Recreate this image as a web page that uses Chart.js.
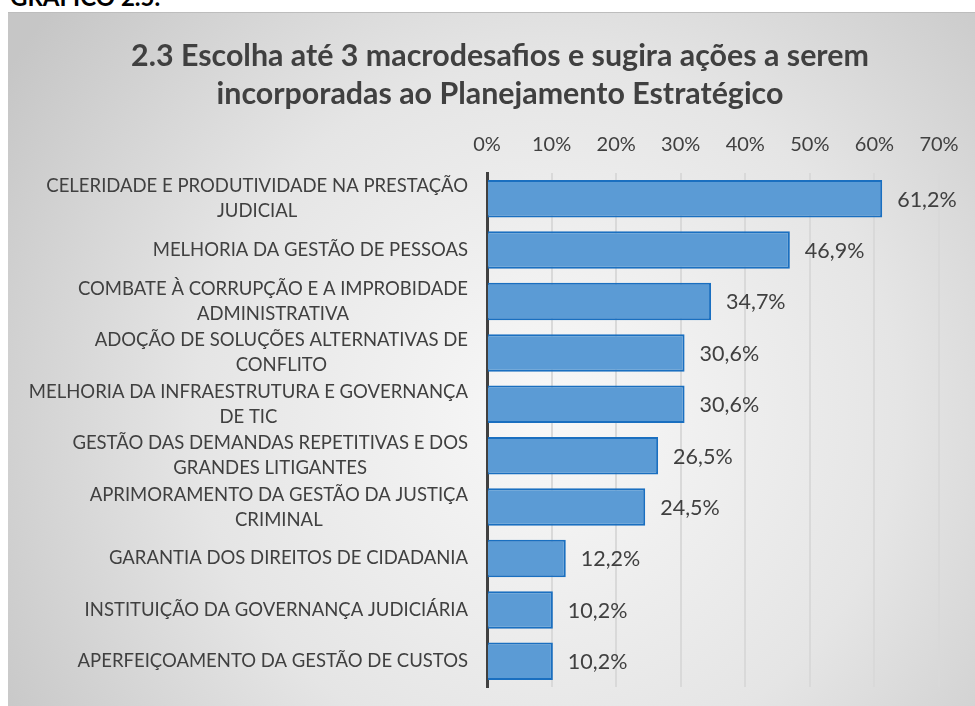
<!DOCTYPE html>
<html>
<head>
<meta charset="utf-8">
<script src="https://cdn.jsdelivr.net/npm/chart.js@4"></script>
<style>
  html, body { margin: 0; padding: 0; background: #ffffff; width: 975px; height: 706px; overflow: hidden; position: relative; }
  #hdr { position: absolute; left: 10px; top: -18px; font: bold 24px Lato, sans-serif; color: #000; white-space: nowrap; }
  #box { position: absolute; left: 8px; top: 12px; width: 984px; height: 694px; border-top: 1px solid #bdbdbd; box-sizing: border-box; }
  #box canvas { display: block; }
</style>
</head>
<body>
<div id="hdr">GRÁFICO 2.5.</div>
<div id="box"><canvas id="c" width="984" height="693"></canvas></div>
<script>
const titleLines = [
  "2.3 Escolha até 3 macrodesafios e sugira ações a serem",
  "incorporadas ao Planejamento Estratégico"
];
const categories = [
  ["CELERIDADE E PRODUTIVIDADE NA PRESTAÇÃO", "JUDICIAL"],
  ["MELHORIA DA GESTÃO DE PESSOAS"],
  ["COMBATE À CORRUPÇÃO E A IMPROBIDADE", "ADMINISTRATIVA"],
  ["ADOÇÃO DE SOLUÇÕES ALTERNATIVAS DE", "CONFLITO"],
  ["MELHORIA DA INFRAESTRUTURA E GOVERNANÇA", "DE TIC"],
  ["GESTÃO DAS DEMANDAS REPETITIVAS E DOS", "GRANDES LITIGANTES"],
  ["APRIMORAMENTO DA GESTÃO DA JUSTIÇA", "CRIMINAL"],
  ["GARANTIA DOS DIREITOS DE CIDADANIA"],
  ["INSTITUIÇÃO DA GOVERNANÇA JUDICIÁRIA"],
  ["APERFEIÇOAMENTO DA GESTÃO DE CUSTOS"]
];
const values = [61.2, 46.9, 34.7, 30.6, 30.6, 26.5, 24.5, 12.2, 10.2, 10.2];
const xTicks = [0, 10, 20, 30, 40, 50, 60, 70];

const TEXT = '#404040';
const FONT = 'Lato, "Open Sans", sans-serif';

const bgPlugin = {
  id: 'bg',
  beforeDraw(chart) {
    const ctx = chart.ctx;
    const w = chart.width, h = chart.height;
    ctx.save();
    const g = ctx.createRadialGradient(540, 400, 0, 540, 400, 640);
    g.addColorStop(0, '#f8f8f8');
    g.addColorStop(0.55, '#e5e5e5');
    g.addColorStop(1, '#c6c6c6');
    ctx.fillStyle = g;
    ctx.fillRect(0, 0, w, h);
    ctx.restore();
  }
};

const textPlugin = {
  id: 'texts',
  afterDraw(chart) {
    const ctx = chart.ctx;
    const yScale = chart.scales.y;
    const meta = chart.getDatasetMeta(0);
    ctx.save();
    ctx.fillStyle = TEXT;
    ctx.textBaseline = 'middle';
    // title (fit first line to reference width)
    ctx.font = 'bold 28px ' + FONT;
    const w0 = ctx.measureText(titleLines[0]).width;
    const ts = 28 * 738 / w0;
    ctx.font = 'bold ' + ts.toFixed(2) + 'px ' + FONT;
    ctx.textAlign = 'center';
    ctx.fillText(titleLines[0], 492, 43);
    ctx.fillText(titleLines[1], 492, 81);
    // category labels
    ctx.font = '18.5px ' + FONT;
    const rightEdge = chart.chartArea.left - 19;
    categories.forEach((lines, i) => {
      const yc = yScale.getPixelForValue(i);
      const widths = lines.map(l => ctx.measureText(l).width);
      const wMax = Math.max(...widths);
      const cx = rightEdge - wMax / 2;
      const lh = 25;
      const y0 = yc - (lines.length - 1) * lh / 2;
      ctx.textAlign = 'center';
      lines.forEach((l, k) => ctx.fillText(l, cx, y0 + k * lh));
    });
    // value labels
    ctx.font = '21.5px ' + FONT;
    ctx.textAlign = 'left';
    meta.data.forEach((bar, i) => {
      const txt = values[i].toFixed(1).replace('.', ',') + '%';
      ctx.fillText(txt, bar.x + 15, bar.y + 1);
    });
    ctx.restore();
  }
};

new Chart(document.getElementById('c'), {
  type: 'bar',
  data: {
    labels: categories,
    datasets: [{
      data: values,
      backgroundColor: '#5b9bd5',
      borderColor: '#1a6fc0',
      borderWidth: 2,
      borderSkipped: 'start',
      barPercentage: 0.73,
      categoryPercentage: 1.0
    }]
  },
  options: {
    indexAxis: 'y',
    responsive: false,
    animation: false,
    events: [],
    layout: { padding: { left: 479, right: 53, top: 0, bottom: 19 } },
    plugins: {
      legend: { display: false },
      tooltip: { enabled: false },
      title: { display: false }
    },
    scales: {
      x: {
        position: 'top',
        min: 0,
        max: 70,
        afterBuildTicks(scale) { scale.ticks = xTicks.map(v => ({ value: v })); },
        afterFit(scale) { scale.height = 160; },
        ticks: {
          color: TEXT,
          font: { family: FONT, size: 20 },
          padding: 16,
          maxRotation: 0,
          callback: v => v + '%'
        },
        grid: { color: '#d9d9d9', lineWidth: 2, drawTicks: false },
        border: { display: false }
      },
      y: {
        afterFit(scale) { scale.width = 0; },
        ticks: { display: false },
        grid: { display: false },
        border: { display: true, color: '#404040', width: 3 }
      }
    }
  },
  plugins: [bgPlugin, textPlugin]
});
</script>
</body>
</html>
